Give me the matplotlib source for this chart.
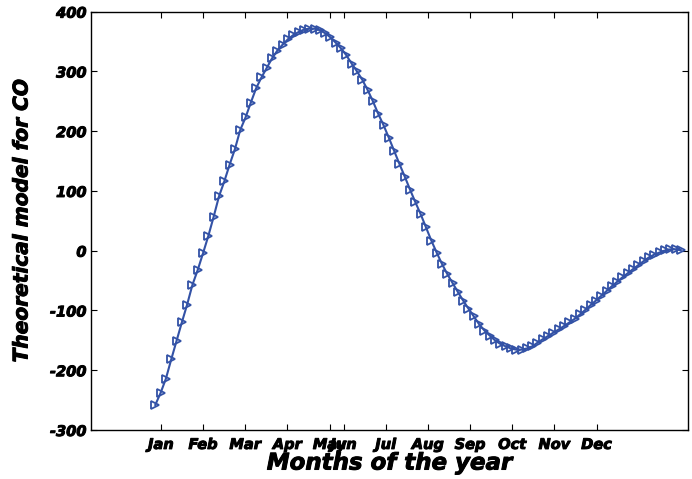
import numpy as np
import matplotlib
matplotlib.use("Agg")
import matplotlib.pyplot as plt
import matplotlib.patheffects as pe

plt.rcParams['font.family'] = ['DejaVu Sans']
plt.rcParams['axes.unicode_minus'] = False

# month ticks (day of year, Jan at 0)
month_pos = [0, 30, 60, 90, 120, 130, 160, 190, 220, 250, 280, 310]
month_names = ['Jan', 'Feb', 'Mar', 'Apr', 'May', 'Jun',
               'Jul', 'Aug', 'Sep', 'Oct', 'Nov', 'Dec']

# sampling days of the model curve
days = np.linspace(-4, 370, 100)

# theoretical CO model values
co_model = [
    -258, -238, -214, -182, -151, -120, -90, -57, -32, -4,
    25, 57, 91, 116, 144, 170, 202, 223, 248, 272,
    290, 306, 322, 335, 345, 354, 361, 366, 370, 371.5,
    371.5, 369, 364, 357, 348, 338.5, 327, 313, 300, 286,
    269, 250, 229, 210, 189, 167, 145, 124, 102, 81,
    61, 39, 17, -3, -22, -39, -54, -69, -83.5, -97,
    -110, -123, -133.5, -142, -150, -156, -160, -163.6, -165.6, -165.6,
    -163.5, -160, -154, -148, -142.6, -137, -131.7, -126, -120, -114,
    -106.6, -99, -91, -83.4, -75.5, -67.5, -59.4, -52, -44.5, -37.7,
    -30.7, -24, -17.4, -11, -6.5, -2.9, 0.4, 2.3, 2.5, 1,
]

fig = plt.figure(figsize=(6.92, 4.79), dpi=100)
ax = fig.add_axes([0.131, 0.1023, 0.863, 0.8733])

ax.plot(days, co_model, color='#3352a6', lw=1.5, marker='>', ms=6,
        mfc='none', mec='#3352a6', mew=1.3)

ax.set_xlim(-50, 375)
ax.set_ylim(-300, 400)
ax.set_xticks(month_pos)
ax.set_xticklabels(month_names)
ax.set_yticks(range(-300, 401, 100))

ax.tick_params(direction='in', length=4, width=0.8, top=True, right=True,
               labelsize=10.5)
ax.tick_params(axis='y', pad=3)
ax.tick_params(axis='x', pad=5)

# heavier text like the original
heavy = [pe.withStroke(linewidth=0.7, foreground='black')]
for lab in ax.get_xticklabels() + ax.get_yticklabels():
    lab.set_fontweight('bold')
    lab.set_fontstyle('italic')
    lab.set_path_effects(heavy)
for s in ax.spines.values():
    s.set_linewidth(1.0)

ax.set_xlabel('Months of the year', fontsize=16.5, fontweight='bold',
              fontstyle='italic', path_effects=heavy)
ax.xaxis.label.set_va('center')
ax.xaxis.set_label_coords(0.5, -0.079)
ax.set_ylabel('Theoretical model for CO', fontsize=14.5, fontweight='bold',
              fontstyle='italic', path_effects=heavy)
ax.yaxis.label.set_va('center')
ax.yaxis.set_label_coords(-0.115, 0.5)

fig.savefig('out.png', dpi=100)
